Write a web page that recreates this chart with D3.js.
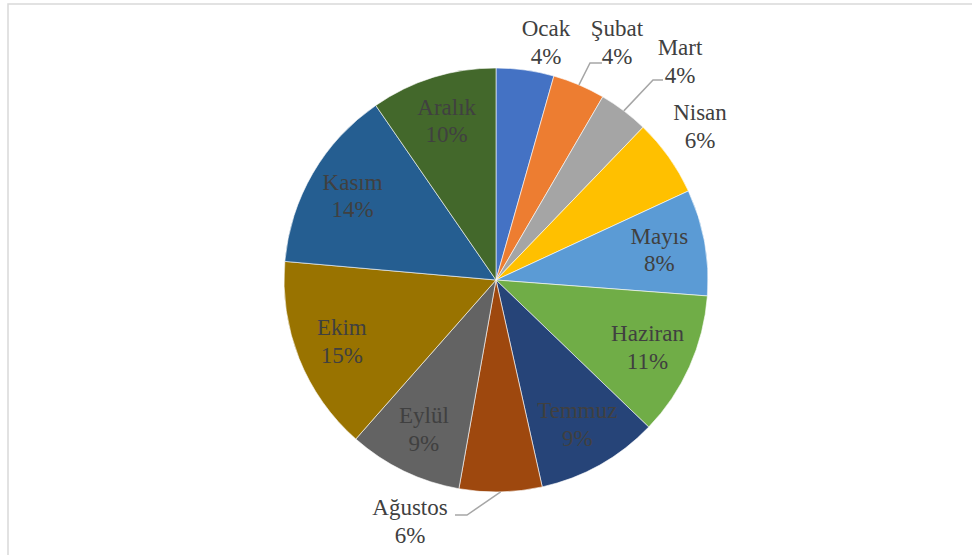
<!DOCTYPE html>
<meta charset="utf-8">
<style>
body { margin: 0; background: #fff; }
</style>
<svg width="972" height="555"></svg>
<script src="https://d3js.org/d3.v7.min.js"></script>
<script>

// months and share of the year
var months = ["Ocak", "Şubat", "Mart", "Nisan", "Mayıs", "Haziran",
              "Temmuz", "Ağustos", "Eylül", "Ekim", "Kasım", "Aralık"];
var values = [4.4, 4.0, 3.8, 5.9, 8.1, 11.0, 9.3, 6.3, 8.7, 14.9, 14.0, 9.6];
var colors = ["#4472C4", "#ED7D31", "#A5A5A5", "#FFC000", "#5B9BD5", "#70AD47",
              "#264478", "#9E480E", "#636363", "#997300", "#255E91", "#43682B"];

// labels that sit outside the pie (offsets from the pie centre, first baseline)
var outside = {
  "Ocak":    {dx: 50,  dy: -244},
  "Şubat":   {dx: 121, dy: -244, elbow: [94, -217], end: 106},
  "Mart":    {dx: 184, dy: -225, elbow: [157, -200], end: 167},
  "Nisan":   {dx: 204, dy: -160},
  "Ağustos": {dx: -86, dy: 235, elbow: [-29, 235], end: -41}
};

var svg = d3.select("svg"),
    cx = 496, cy = 280, radius = 212,
    lineH = 27.5,
    serif = "'Liberation Serif', 'Times New Roman', serif";

svg.append("rect")
    .attr("x", 8).attr("y", 4)
    .attr("width", 1000).attr("height", 1000)
    .attr("fill", "none")
    .attr("stroke", "#d9d9d9")
    .attr("stroke-width", 1.5);

var data = months.map(function(m, i) { return {name: m, value: values[i], color: colors[i]}; });
var total = d3.sum(values);

var pie = d3.pie().sort(null).value(function(d) { return d.value; });
var arc = d3.arc().innerRadius(0).outerRadius(radius);
var labelArc = d3.arc().innerRadius(166).outerRadius(166);
var edgeArc = d3.arc().innerRadius(radius).outerRadius(radius);

var g = svg.append("g").attr("transform", "translate(" + cx + "," + cy + ")");
var arcs = pie(data);

g.selectAll("path")
    .data(arcs)
  .enter().append("path")
    .attr("d", arc)
    .attr("fill", function(d) { return d.data.color; })
    .attr("stroke", "#fff")
    .attr("stroke-width", 0.6);

// leader lines
g.selectAll("polyline")
    .data(arcs.filter(function(d) { return outside[d.data.name] && outside[d.data.name].elbow; }))
  .enter().append("polyline")
    .attr("fill", "none")
    .attr("stroke", "#a6a6a6")
    .attr("stroke-width", 1.5)
    .attr("points", function(d) {
      var o = outside[d.data.name], p = edgeArc.centroid(d);
      return [p, o.elbow, [o.end, o.elbow[1]]].map(function(q) { return q.join(","); }).join(" ");
    });

var labels = g.selectAll("text.lbl")
    .data(arcs)
  .enter().append("text")
    .attr("class", "lbl")
    .attr("text-anchor", "middle")
    .style("font-family", serif)
    .style("font-size", "23px")
    .attr("fill", "#404040")
    .attr("transform", function(d) {
      var o = outside[d.data.name];
      if (o) return "translate(" + o.dx + "," + o.dy + ")";
      var c = labelArc.centroid(d);
      return "translate(" + c[0] + "," + (c[1] - 6.5) + ")";
    });

labels.append("tspan")
    .attr("x", 0).attr("y", 0)
    .text(function(d) { return d.data.name; });

labels.append("tspan")
    .attr("x", 0).attr("y", lineH)
    .text(function(d) { return Math.round(d.data.value / total * 100) + "%"; });

</script>
